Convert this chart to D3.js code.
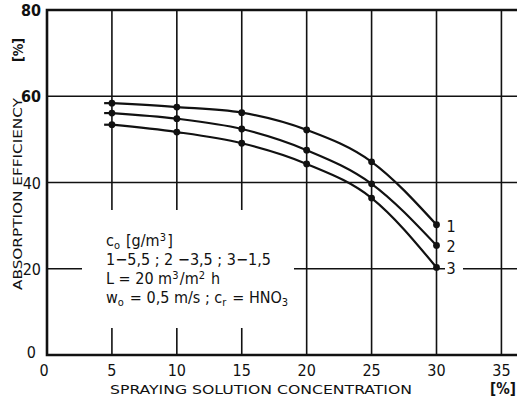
<!DOCTYPE html>
<html>
<head>
<meta charset="utf-8">
<script src="https://cdn.jsdelivr.net/npm/d3@7"></script>
<style>
  body { margin: 0; background: #fff; }
  text { font-family: 'DejaVu Sans Condensed', 'Liberation Sans', sans-serif; fill: #111; }
</style>
</head>
<body>
<script>
const WIDTH = 522;
const HEIGHT = 401;

const conc = [5, 10, 15, 20, 25, 30];
const curve1 = [58.4, 57.5, 56.2, 52.2, 44.8, 30.2];
const curve2 = [56.1, 54.8, 52.4, 47.5, 39.7, 25.4];
const curve3 = [53.4, 51.7, 49.1, 44.3, 36.4, 20.3];
const curveNames = ['1', '2', '3'];
const xTicks = [0, 5, 10, 15, 20, 25, 30, 35];
const yTicks = [0, 20, 40, 60, 80];
const legendLines = [
  ['c', {sub: 'o'}, ' [g/m', {sup: '3'}, ']'],
  ['1\u22125,5 ;  2 \u22123,5 ;  3\u22121,5'],
  ['L = 20  m', {sup: '3'}, '/m', {sup: '2'}, ' h'],
  ['w', {sub: 'o'}, ' = 0,5  m/s ;  c', {sub: 'r'}, ' = HNO', {sub: '3'}],
];

const x = d3.scaleLinear().domain([0, 36.2]).range([47, 517]);
const y = d3.scaleLinear().domain([0, 80]).range([355, 10]);

const svg = d3.select('body').append('svg')
  .attr('width', WIDTH)
  .attr('height', HEIGHT);

// grid
const grid = svg.append('g').attr('stroke', '#111').attr('stroke-width', 1.6);
grid.selectAll('line.v')
  .data(xTicks.filter(d => d > 0))
  .enter().append('line')
  .attr('x1', d => x(d)).attr('x2', d => x(d))
  .attr('y1', y(80)).attr('y2', y(0));
grid.selectAll('line.h')
  .data(yTicks.filter(d => d > 0 && d < 80))
  .enter().append('line')
  .attr('x1', x(0)).attr('x2', x(36.2))
  .attr('y1', d => y(d)).attr('y2', d => y(d));

// white patch behind the legend text
svg.append('rect')
  .attr('x', 82).attr('y', 210)
  .attr('width', 212).attr('height', 118)
  .attr('fill', '#fff');
// gap in the 20 line near the "3" label
svg.append('rect')
  .attr('x', 445).attr('y', y(20) - 3)
  .attr('width', 18).attr('height', 6)
  .attr('fill', '#fff');

// frame: top, left, bottom
svg.append('path')
  .attr('d', `M${x(36.2)},${y(80)} L${x(0)},${y(80)} L${x(0)},${y(0)} L${x(36.2)},${y(0)}`)
  .attr('fill', 'none').attr('stroke', '#111').attr('stroke-width', 2.6);

// curves
const series = [curve1, curve2, curve3];
const line = d3.line()
  .x((d, i) => x(conc[i]))
  .y(d => y(d))
  .curve(d3.curveMonotoneX);

series.forEach((vals, k) => {
  svg.append('path')
    .attr('d', line(vals))
    .attr('fill', 'none')
    .attr('stroke', '#111')
    .attr('stroke-width', 2.2);
  // short lead-in left of the first point
  svg.append('line')
    .attr('x1', x(4.4)).attr('x2', x(5))
    .attr('y1', y(vals[0])).attr('y2', y(vals[0]))
    .attr('stroke', '#111').attr('stroke-width', 2.2);
  svg.selectAll('circle.c' + k)
    .data(vals)
    .enter().append('circle')
    .attr('cx', (d, i) => x(conc[i]))
    .attr('cy', d => y(d))
    .attr('r', 3.4)
    .attr('fill', '#111');
  svg.append('text')
    .attr('x', x(30) + 10)
    .attr('y', y(vals[vals.length - 1]) + 7)
    .attr('font-size', 16)
    .text(curveNames[k]);
});

// y tick labels
svg.selectAll('text.yt')
  .data(yTicks)
  .enter().append('text')
  .attr('x', d => d === 0 ? 36 : 41)
  .attr('y', d => y(d) + (d === 0 ? 3 : 6))
  .attr('text-anchor', 'end')
  .attr('font-size', 16)
  .attr('font-weight', d => d >= 60 ? 'bold' : 'normal')
  .text(d => d);

// x tick labels
svg.selectAll('text.xt')
  .data(xTicks)
  .enter().append('text')
  .attr('x', d => x(d) - (d === 0 ? 3 : 0))
  .attr('y', 376)
  .attr('text-anchor', 'middle')
  .attr('font-size', 16)
  .text(d => d);

// axis titles
svg.append('text')
  .attr('transform', 'translate(22,290) rotate(-90)')
  .attr('font-size', 13)
  .attr('textLength', 192)
  .attr('lengthAdjust', 'spacingAndGlyphs')
  .text('ABSORPTION  EFFICIENCY');
svg.append('text')
  .attr('transform', 'translate(23,50) rotate(-90)')
  .attr('text-anchor', 'middle')
  .attr('font-size', 14)
  .attr('font-weight', 'bold')
  .text('[%]');
svg.append('text')
  .attr('x', 110).attr('y', 394)
  .attr('font-size', 13)
  .attr('textLength', 302)
  .attr('lengthAdjust', 'spacingAndGlyphs')
  .text('SPRAYING   SOLUTION   CONCENTRATION');
svg.append('text')
  .attr('x', 503).attr('y', 394)
  .attr('text-anchor', 'middle')
  .attr('font-size', 15)
  .attr('font-weight', 'bold')
  .text('[%]');

// legend block
legendLines.forEach((parts, i) => {
  const t = svg.append('text')
    .attr('x', 106)
    .attr('y', 246 + i * 19)
    .attr('font-size', 16);
  parts.forEach(p => {
    if (typeof p === 'string') {
      t.append('tspan').text(p);
    } else if (p.sub) {
      t.append('tspan').attr('dy', 2.5).attr('font-size', 11).text(p.sub);
      t.append('tspan').attr('dy', -2.5).text('\u200a');
    } else {
      t.append('tspan').attr('dy', -5).attr('font-size', 11).text(p.sup);
      t.append('tspan').attr('dy', 5).text('\u200a');
    }
  });
});
</script>
</body>
</html>
